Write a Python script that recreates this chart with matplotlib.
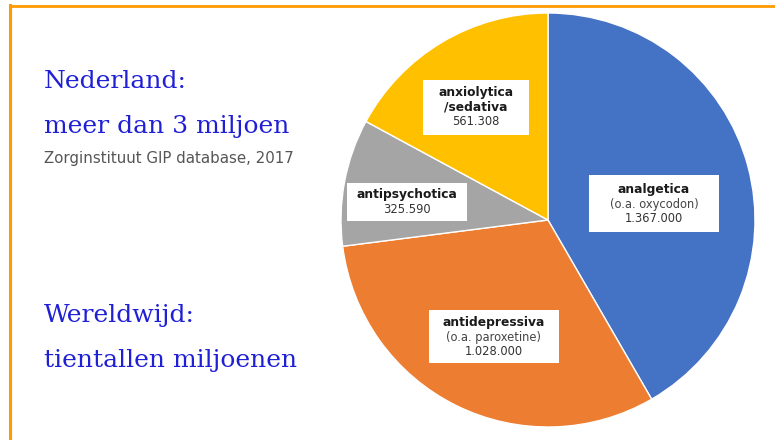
import numpy as np
import matplotlib.pyplot as plt
from matplotlib.lines import Line2D

# data
categories = ["analgetica", "antidepressiva", "antipsychotica", "anxiolytica\n/sedativa"]
subtitles = ["(o.a. oxycodon)", "(o.a. paroxetine)", "", ""]
value_labels = ["1.367.000", "1.028.000", "325.590", "561.308"]
values = [1367000, 1028000, 325590, 561308]
colors = ["#4472C4", "#ED7D31", "#A5A5A5", "#FFC000"]

W, H = 775, 440
fig = plt.figure(figsize=(W / 100, H / 100), dpi=100)
fig.patch.set_facecolor("white")

# pie: centre (548, 220) px, radius 207 px
cx, cy, r = 548, 220, 207
ax = fig.add_axes([(cx - r) / W, (H - cy - r) / H, 2 * r / W, 2 * r / H])
wedges, _ = ax.pie(values, colors=colors, startangle=90, counterclock=False,
                   radius=1, wedgeprops=dict(edgecolor="white", linewidth=1))
ax.set_xlim(-1, 1)
ax.set_ylim(-1, 1)
ax.set_aspect("equal")
ax.axis("off")

# label box centres / sizes in pixels
label_pos = [(654, 204), (494, 337), (407, 202), (476, 107)]
box_size = [(130, 57), (130, 53), (120, 38), (106, 55)]

for i, (px, py) in enumerate(label_pos):
    xd = (px - cx) / r
    yd = (cy - py) / r
    lines = [(l, "bold", "#1a1a1a", 8.8) for l in categories[i].split("\n")]
    if subtitles[i]:
        lines.append((subtitles[i], "normal", "#444444", 8.3))
    lines.append((value_labels[i], "normal", "#333333", 8.3))
    n = len(lines)
    step = 14.5 / r
    bw, bh = box_size[i]
    ax.add_patch(plt.Rectangle((xd - bw / 2 / r, yd - bh / 2 / r), bw / r, bh / r,
                               facecolor="white", edgecolor="none", zorder=3))
    for j, (txt, wt, col, fs) in enumerate(lines):
        yy = yd + ((n - 1) / 2 - j) * step
        ax.text(xd, yy, txt, ha="center", va="center", fontsize=fs,
                fontweight=wt, color=col, family="DejaVu Sans", zorder=4)

# left side text
blue = "#1f1fd6"
serif = "DejaVu Serif"
big = 18
fig.text(44 / W, 1 - 81 / H, "Nederland:", fontsize=big, color=blue,
         family=serif, va="center", ha="left")
fig.text(44 / W, 1 - 126 / H, "meer dan 3 miljoen", fontsize=big, color=blue,
         family=serif, va="center", ha="left")
fig.text(44 / W, 1 - 158 / H, "Zorginstituut GIP database, 2017", fontsize=10.8,
         color="#555555", family="DejaVu Sans", va="center", ha="left")
fig.text(44 / W, 1 - 315 / H, "Wereldwijd:", fontsize=big, color=blue,
         family=serif, va="center", ha="left")
fig.text(44 / W, 1 - 360 / H, "tientallen miljoenen", fontsize=big, color=blue,
         family=serif, va="center", ha="left")

# orange frame (top and left)
orange = "#FF9A00"
fig.add_artist(Line2D([9.5 / W, 1], [1 - 6.5 / H, 1 - 6.5 / H], color=orange,
                      linewidth=2, transform=fig.transFigure))
fig.add_artist(Line2D([9.5 / W, 9.5 / W], [0, 1 - 5.5 / H], color=orange,
                      linewidth=2.2, transform=fig.transFigure))

fig.savefig("out.png", dpi=100)
